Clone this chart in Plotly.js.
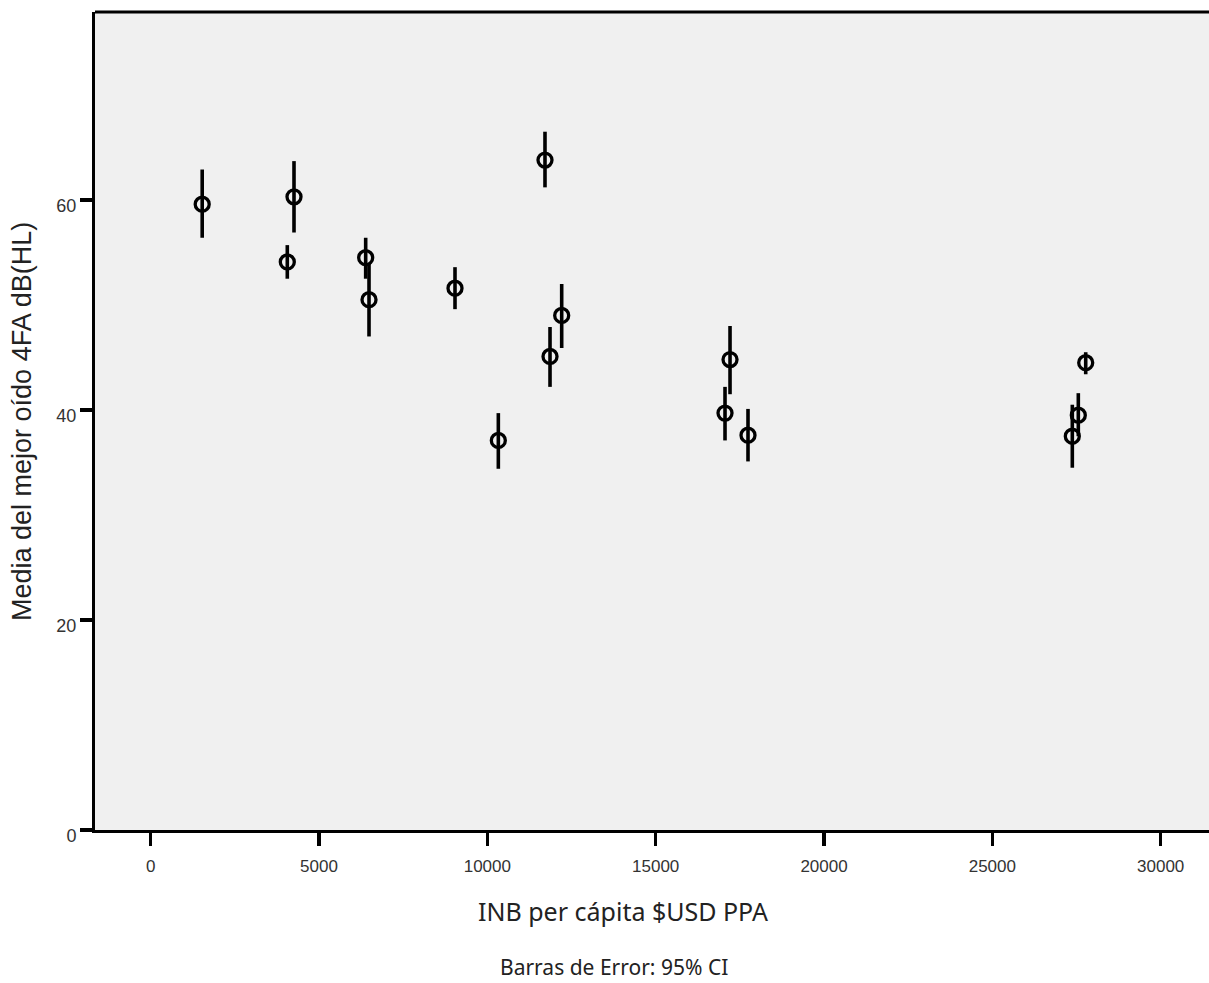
<!DOCTYPE html>
<html>
<head>
<meta charset="utf-8">
<script src="https://cdn.plot.ly/plotly-3.0.1.min.js"></script>
<style>html,body{margin:0;padding:0;background:#fff;}#chart{width:1209px;height:983px;}</style>
</head>
<body>
<div id="chart"></div>
<script>
// GNI per capita (USD PPP) for each country group
const gniPerCapita = [1530, 4257, 4058, 6386, 6485, 9039, 11712, 12208, 11861, 10326, 17208, 17059, 17742, 27773, 27553, 27375];
// Mean better-ear 4FA hearing level, dB(HL)
const meanHL      = [59.6, 60.3, 54.1, 54.5, 50.5, 51.6, 63.8, 49.0, 45.1, 37.1, 44.8, 39.7, 37.6, 44.5, 39.5, 37.5];
// 95% CI bounds
const ciUpper     = [62.9, 63.7, 55.7, 56.4, 54.0, 53.6, 66.5, 52.0, 47.9, 39.7, 48.0, 42.2, 40.1, 45.5, 41.6, 40.5];
const ciLower     = [56.4, 56.9, 52.5, 52.5, 47.0, 49.6, 61.2, 45.9, 42.2, 34.4, 41.5, 37.1, 35.1, 43.4, 37.5, 34.5];

const xTickVals = [0, 5000, 10000, 15000, 20000, 25000, 30000];
const yTickVals = [0, 20, 40, 60];

const xTitle = "INB per cápita $USD PPA";
const yTitle = "Media del mejor oído 4FA dB(HL)";
const caption = "Barras de Error: 95% CI";

const plus = ciUpper.map((u, i) => u - meanHL[i]);
const minus = meanHL.map((m, i) => m - ciLower[i]);

const trace = {
  type: 'scatter',
  mode: 'markers',
  x: gniPerCapita,
  y: meanHL,
  marker: {symbol: 'circle-open', size: 14, color: '#000', line: {width: 3.3, color: '#000'}},
  error_y: {type: 'data', symmetric: false, array: plus, arrayminus: minus, color: '#000', thickness: 3.6, width: 0},
  hoverinfo: 'x+y'
};

const layout = {
  width: 1209,
  height: 983,
  margin: {l: 95, r: 0, t: 12, b: 153},
  paper_bgcolor: '#ffffff',
  plot_bgcolor: '#f0f0f0',
  showlegend: false,
  font: {family: 'Liberation Sans, Arial, sans-serif', color: '#333'},
  xaxis: {
    range: [-1654, 31435],
    tickvals: xTickVals,
    ticktext: xTickVals.map(String),
    showgrid: false, zeroline: false,
    showline: true, linecolor: '#000', linewidth: 3,
    ticks: 'outside', ticklen: 13, tickwidth: 3.5, tickcolor: '#000',
    tickfont: {size: 17, color: '#333', family: 'Liberation Sans, Arial, sans-serif'},
    ticklabelstandoff: 6
  },
  yaxis: {
    range: [0, 77.9],
    tickvals: yTickVals,
    ticktext: yTickVals.map(String),
    showgrid: false, zeroline: false,
    showline: true, linecolor: '#000', linewidth: 3,
    ticks: 'outside', ticklen: 12, tickwidth: 3.5, tickcolor: '#000',
    tickfont: {size: 18, color: '#333', family: 'Liberation Sans, Arial, sans-serif'},
    ticklabelshift: 6,
    ticklabelstandoff: 0
  },
  shapes: [
    {type: 'line', xref: 'paper', yref: 'paper', x0: 0, x1: 1, y0: 1, y1: 1, line: {color: '#000', width: 3}}
  ],
  annotations: [
    {text: xTitle, xref: 'paper', yref: 'paper', x: (623 - 95) / 1114, y: -(911 - 830) / 818, xanchor: 'center', yanchor: 'middle', showarrow: false,
     font: {size: 25, color: '#222', family: 'Noto Sans, Open Sans, sans-serif'}},
    {text: caption, xref: 'paper', yref: 'paper', x: (614 - 95) / 1114, y: -(967 - 830) / 818, xanchor: 'center', yanchor: 'middle', showarrow: false, borderpad: 0,
     font: {size: 21, color: '#222', family: 'Noto Sans, Open Sans, sans-serif'}},
    {text: yTitle, xref: 'paper', yref: 'paper', x: -(95 - 22) / 1114, y: (830 - 422) / 818, xanchor: 'center', yanchor: 'middle', textangle: -90, showarrow: false,
     font: {size: 27, color: '#222', family: 'Liberation Sans, Arial, sans-serif'}}
  ]
};

Plotly.newPlot('chart', [trace], layout, {displayModeBar: false, staticPlot: true});
</script>
</body>
</html>
